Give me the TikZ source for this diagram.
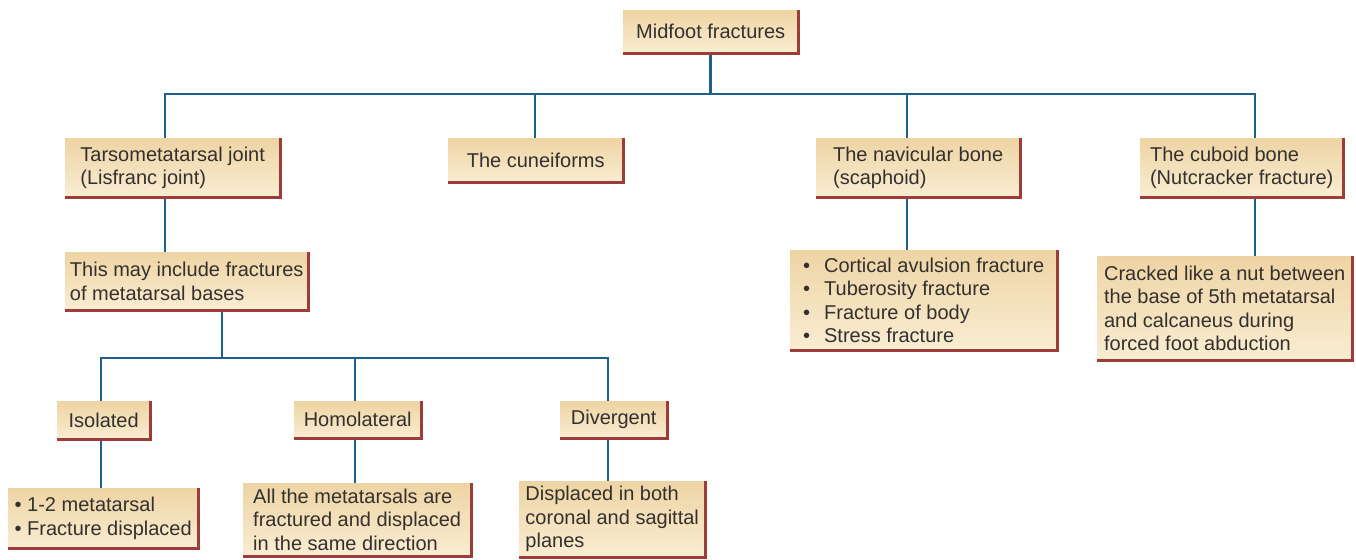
\documentclass[tikz,border=0pt]{standalone}
\usepackage{fontspec}
\setmainfont{Liberation Sans}
\usetikzlibrary{backgrounds}

\definecolor{boxtop}{RGB}{238,212,164}
\definecolor{boxbot}{RGB}{249,237,210}
\definecolor{rim}{RGB}{158,60,58}
\definecolor{wire}{RGB}{30,96,140}
\definecolor{ink}{RGB}{52,48,46}

\tikzset{
  box/.style={anchor=north west, inner sep=0pt, align=left, text=ink,
    top color=boxtop, bottom color=boxbot, draw=none,
    font=\fontsize{20}{23.5}\selectfont},
  rimline/.style={draw=rim, line width=2.6pt, line join=miter},
  link/.style={draw=wire, line width=2.6pt, line join=miter},
}
\newcommand{\bul}{\makebox[21pt][l]{•}}

\begin{document}
\begin{tikzpicture}[x=1pt, y=-1pt]
\useasboundingbox (0,0) rectangle (1356,559);

% level 1
\node[box, minimum width=175, minimum height=43] (top) at (623,10) {Midfoot fractures};

% level 2
\node[box, minimum width=215, minimum height=59] (tmt) at (65,138) {Tarsometatarsal joint\\(Lisfranc joint)};
\node[box, minimum width=175, minimum height=44] (cun) at (448,138) {The cuneiforms};
\node[box, minimum width=204, minimum height=59] (nav) at (816,138) {The navicular bone\\(scaphoid)};
\node[box, minimum width=203, minimum height=59] (cub) at (1140,138) {The cuboid bone\\(Nutcracker fracture)};

% level 3
\node[box, minimum width=243, minimum height=58] (inc) at (65,252) {This may include fractures\\of metatarsal bases};
\node[box, minimum width=267, minimum height=100] (navd) at (790,250)
  {\bul Cortical avulsion fracture\\\bul Tuberosity fracture\\\bul Fracture of body\\\bul Stress fracture};
\node[box, minimum width=255, minimum height=104] (cubd) at (1097,256)
  {Cracked like a nut between\\the base of 5th metatarsal\\and calcaneus during\\forced foot abduction};

% level 4
\node[box, minimum width=93, minimum height=38] (iso) at (57,401) {Isolated};
\node[box, minimum width=127, minimum height=37] (hom) at (294,401) {Homolateral};
\node[box, minimum width=107, minimum height=37] (div) at (560,401) {Divergent};

% level 5
\node[box, minimum width=190, minimum height=60] (isod) at (8,488) {• 1-2 metatarsal\\• Fracture displaced};
\node[box, minimum width=228, minimum height=73] (homd) at (243,483)
  {All the metatarsals are\\fractured and displaced\\in the same direction};
\node[box, minimum width=186, minimum height=76] (divd) at (519,481)
  {Displaced in both\\coronal and sagittal\\planes};

% shaded rims on the right and bottom edges
\foreach \n in {top,tmt,cun,nav,cub,inc,navd,cubd,iso,hom,div,isod,homd,divd}
  \draw[rimline] (\n.north east) -- (\n.south east) -- (\n.south west);

% junction points of the connector trees
\coordinate (j1) at (165,94);
\coordinate (j2) at (535,94);
\coordinate (j3) at (907,94);
\coordinate (j4) at (1255,94);
\coordinate (k0) at (222,358);
\coordinate (k1) at (101,358);
\coordinate (k2) at (355,358);
\coordinate (k3) at (608,358);

\begin{pgfonlayer}{background}
  \fill[white] (0,0) rectangle (1356,559);
  \draw[link] (top.south) -- (top.south |- j1);
  \draw[link] (j1 |- tmt.north) -- (j1) -- (j4) -- (j4 |- cub.north);
  \draw[link] (j2) -- (j2 |- cun.north);
  \draw[link] (j3) -- (j3 |- nav.north);
  \draw[link] (j1 |- tmt.south) -- (j1 |- inc.north);
  \draw[link] (j3 |- nav.south) -- (j3 |- navd.north);
  \draw[link] (j4 |- cub.south) -- (j4 |- cubd.north);
  \draw[link] (k0 |- inc.south) -- (k0);
  \draw[link] (k1 |- iso.north) -- (k1) -- (k3) -- (k3 |- div.north);
  \draw[link] (k2) -- (k2 |- hom.north);
  \draw[link] (k1 |- iso.south) -- (k1 |- isod.north);
  \draw[link] (k2 |- hom.south) -- (k2 |- homd.north);
  \draw[link] (k3 |- div.south) -- (k3 |- divd.north);
\end{pgfonlayer}
\end{tikzpicture}
\end{document}
